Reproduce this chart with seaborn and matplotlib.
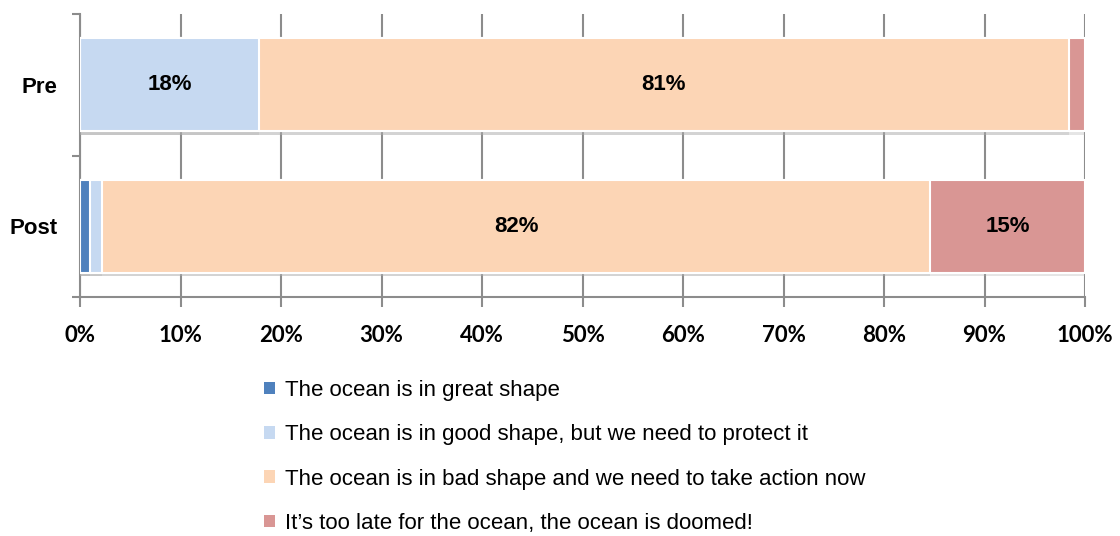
import numpy as np
import pandas as pd
import matplotlib
matplotlib.use("Agg")
import matplotlib.pyplot as plt
import matplotlib.patheffects as pe
from matplotlib.patches import Patch
import seaborn as sns

# Datos (porcentaje de respuestas)
groups = ["Pre", "Post"]
categories = [
    "The ocean is in great shape",
    "The ocean is in good shape, but we need to protect it",
    "The ocean is in bad shape and we need to take action now",
    "It\u2019s too late for the ocean, the ocean is doomed!",
]
great = [0.0, 1.0]
good = [17.8, 1.2]
bad = [80.6, 82.4]
late = [1.6, 15.4]
colors = ["#4F81BD", "#C6D9F1", "#FCD5B5", "#D99694"]
xticks = np.arange(0, 101, 10)

sns.set_style("white")
plt.rcParams["font.family"] = ["Liberation Sans", "DejaVu Sans"]
plt.rcParams["text.color"] = "black"
plt.rcParams["xtick.color"] = "black"
plt.rcParams["ytick.color"] = "black"

df = pd.DataFrame({"group": groups, "great": great, "good": good, "bad": bad, "late": late})
cols = ["great", "good", "bad", "late"]
cum = df[cols].cumsum(axis=1)

fig = plt.figure(figsize=(11.2, 5.36), dpi=100)
ax = fig.add_axes([80 / 1120, 1 - 297 / 536, 1005 / 1120, 283 / 536])

# barras apiladas: se dibujan los acumulados del mayor al menor
for c, col in reversed(list(zip(colors, cols))):
    sns.barplot(x=cum[col], y=df["group"], color=c, orient="h", width=0.66, saturation=1,
                edgecolor="white", linewidth=1.5, ax=ax, zorder=3)

# sombra ligera bajo las barras
for p in ax.patches:
    p.set_path_effects([pe.SimplePatchShadow(offset=(0, -2.5), shadow_rgbFace="#aaaaaa", alpha=0.3),
                        pe.Normal()])

# etiquetas de porcentaje
for i, g in enumerate(groups):
    left = 0
    for col in cols:
        v = df.loc[i, col]
        if v >= 5:
            ax.text(left + v / 2, i, f"{round(v):.0f}%", ha="center", va="center",
                    fontsize=16, fontweight="bold", zorder=4)
        left += v

gray = "#8c8c8c"
ax.set_xlim(0, 100)
ax.set_ylim(1.5, -0.5)
ax.set_xticks(xticks)
ax.set_xticklabels([f"{t}%" for t in xticks], fontsize=16, fontweight="bold",
                   family=["Lato", "DejaVu Sans"])
ax.set_yticks([-0.5, 0.5, 1.5])
ax.set_yticklabels([])
ax.set_yticks([0, 1], minor=True)
ax.set_yticklabels(groups, minor=True, fontsize=16, fontweight="bold")
ax.tick_params(axis="y", which="minor", length=0, pad=16)
ax.tick_params(axis="y", which="major", length=6, width=1.5, color=gray, direction="out", left=True)
ax.tick_params(axis="x", length=7, width=1.5, color=gray, direction="out", bottom=True, pad=13)
ax.set_xlabel("")
ax.set_ylabel("")
ax.grid(axis="x", color=gray, linewidth=1.5, zorder=0)
ax.set_axisbelow(True)
sns.despine(ax=ax, top=True, right=True)
for s in ["left", "bottom"]:
    ax.spines[s].set_color(gray)
    ax.spines[s].set_linewidth(1.5)

if ax.get_legend() is not None:
    ax.get_legend().remove()
handles = [Patch(facecolor=c, edgecolor="none") for c in colors]
fig.legend(handles, categories, loc="upper left",
           bbox_to_anchor=(244 / 1120, 1 - 360 / 536), frameon=False,
           prop={"family": ["Liberation Sans Narrow", "Liberation Sans"], "size": 16},
           handlelength=0.5, handleheight=0.5, handletextpad=0.45, labelspacing=1.05)

plt.savefig("out.png", dpi=100)
